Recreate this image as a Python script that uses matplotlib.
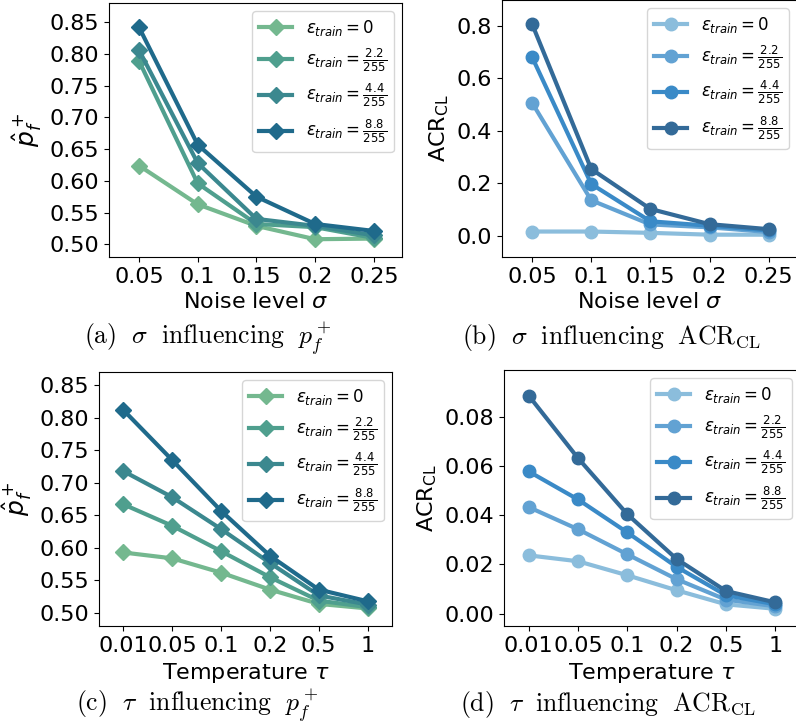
import matplotlib
matplotlib.use("Agg")
import matplotlib.pyplot as plt

sigma = [0.05, 0.1, 0.15, 0.2, 0.25]
sigma_labels = ['0.05', '0.1', '0.15', '0.2', '0.25']
tau_labels = ['0.01', '0.05', '0.1', '0.2', '0.5', '1']

eps_labels = [r'$\varepsilon_{train} = 0$',
              r'$\varepsilon_{train} = \frac{2.2}{255}$',
              r'$\varepsilon_{train} = \frac{4.4}{255}$',
              r'$\varepsilon_{train} = \frac{8.8}{255}$']

# (a) sigma -> p_f^+
pf_sigma = [
    [0.624, 0.563, 0.529, 0.508, 0.509],
    [0.789, 0.596, 0.532, 0.527, 0.510],
    [0.806, 0.628, 0.540, 0.529, 0.514],
    [0.842, 0.657, 0.575, 0.532, 0.521],
]
# (b) sigma -> ACR_CL
acr_sigma = [
    [0.016, 0.016, 0.011, 0.004, 0.004],
    [0.506, 0.135, 0.043, 0.032, 0.014],
    [0.680, 0.197, 0.055, 0.038, 0.020],
    [0.806, 0.254, 0.102, 0.044, 0.025],
]
# (c) tau -> p_f^+
pf_tau = [
    [0.593, 0.584, 0.562, 0.536, 0.514, 0.507],
    [0.667, 0.634, 0.595, 0.555, 0.519, 0.509],
    [0.718, 0.678, 0.629, 0.577, 0.527, 0.513],
    [0.812, 0.735, 0.657, 0.588, 0.536, 0.518],
]
# (d) tau -> ACR_CL
acr_tau = [
    [0.0237, 0.0213, 0.0156, 0.0095, 0.0038, 0.0020],
    [0.0433, 0.0343, 0.0241, 0.0140, 0.0057, 0.0030],
    [0.0578, 0.0464, 0.0330, 0.0190, 0.0075, 0.0038],
    [0.0886, 0.0632, 0.0404, 0.0222, 0.0092, 0.0046],
]

greens = ['#74b88f', '#4f9f8e', '#3b888f', '#1f6a8b']
blues = ['#8bbddc', '#62a2d3', '#3a8ac7', '#336a98']

fig = plt.figure(figsize=(7.96, 7.27), dpi=100)
W, H = 796, 727


def add_ax(l, t, r, b):
    return fig.add_axes([l / W, 1 - b / H, (r - l) / W, (b - t) / H])


axa = add_ax(109, 3, 402, 257)
axb = add_ax(502, 0, 797, 257)
axc = add_ax(99, 372, 392, 626)
axd = add_ax(504, 370, 800, 626)

tau_x = list(range(len(tau_labels)))

for i in range(4):
    axa.plot(sigma, pf_sigma[i], color=greens[i], marker='D', lw=3, ms=8,
             label=eps_labels[i])
    axb.plot(sigma, acr_sigma[i], color=blues[i], marker='o', lw=3, ms=9,
             label=eps_labels[i])
    axc.plot(tau_x, pf_tau[i], color=greens[i], marker='D', lw=3, ms=8,
             label=eps_labels[i])
    axd.plot(tau_x, acr_tau[i], color=blues[i], marker='o', lw=3, ms=9,
             label=eps_labels[i])

for ax in (axa, axb):
    ax.set_xlim(0.0245, 0.274)
    ax.set_xticks(sigma)
    ax.set_xticklabels(sigma_labels)
    ax.set_xlabel(r'Noise level $\sigma$', fontsize=16)
for ax in (axc, axd):
    ax.set_xlim(-0.5, 5.5)
    ax.set_xticks(tau_x)
    ax.set_xticklabels(tau_labels)
    ax.set_xlabel(r'Temperature $\tau$', fontsize=16)

axa.set_ylim(0.48, 0.88)
axa.set_yticks([0.50, 0.55, 0.60, 0.65, 0.70, 0.75, 0.80, 0.85])
axb.set_ylim(-0.081, 0.898)
axb.set_yticks([0.0, 0.2, 0.4, 0.6, 0.8])
axc.set_ylim(0.48, 0.8705)
axc.set_yticks([0.50, 0.55, 0.60, 0.65, 0.70, 0.75, 0.80, 0.85])
axd.set_ylim(-0.005, 0.099)
axd.set_yticks([0.0, 0.02, 0.04, 0.06, 0.08])

for ax in (axa, axc):
    ax.set_ylabel(r'$\hat{p}_f^+$', fontsize=18)
for ax in (axb, axd):
    ax.set_ylabel(r'ACR$_{\rm CL}$', fontsize=16)

for ax in (axa, axb, axc, axd):
    ax.tick_params(labelsize=16)
    ax.legend(loc='upper right', fontsize=12)

captions = [
    (208, 338, r'$\mathrm{(a)}\ \ \sigma\ \ \mathrm{influencing}\ \ p_f^+$'),
    (612, 338, r'$\mathrm{(b)}\ \ \sigma\ \ \mathrm{influencing}\ \ \mathrm{ACR_{CL}}$'),
    (197, 705, r'$\mathrm{(c)}\ \ \tau\ \ \mathrm{influencing}\ \ p_f^+$'),
    (608, 705, r'$\mathrm{(d)}\ \ \tau\ \ \mathrm{influencing}\ \ \mathrm{ACR_{CL}}$'),
]
for x, y, s in captions:
    fig.text(x / W, 1 - y / H, s, ha='center', va='center', fontsize=18.5,
             math_fontfamily='cm')

fig.savefig('out.png', dpi=100)
